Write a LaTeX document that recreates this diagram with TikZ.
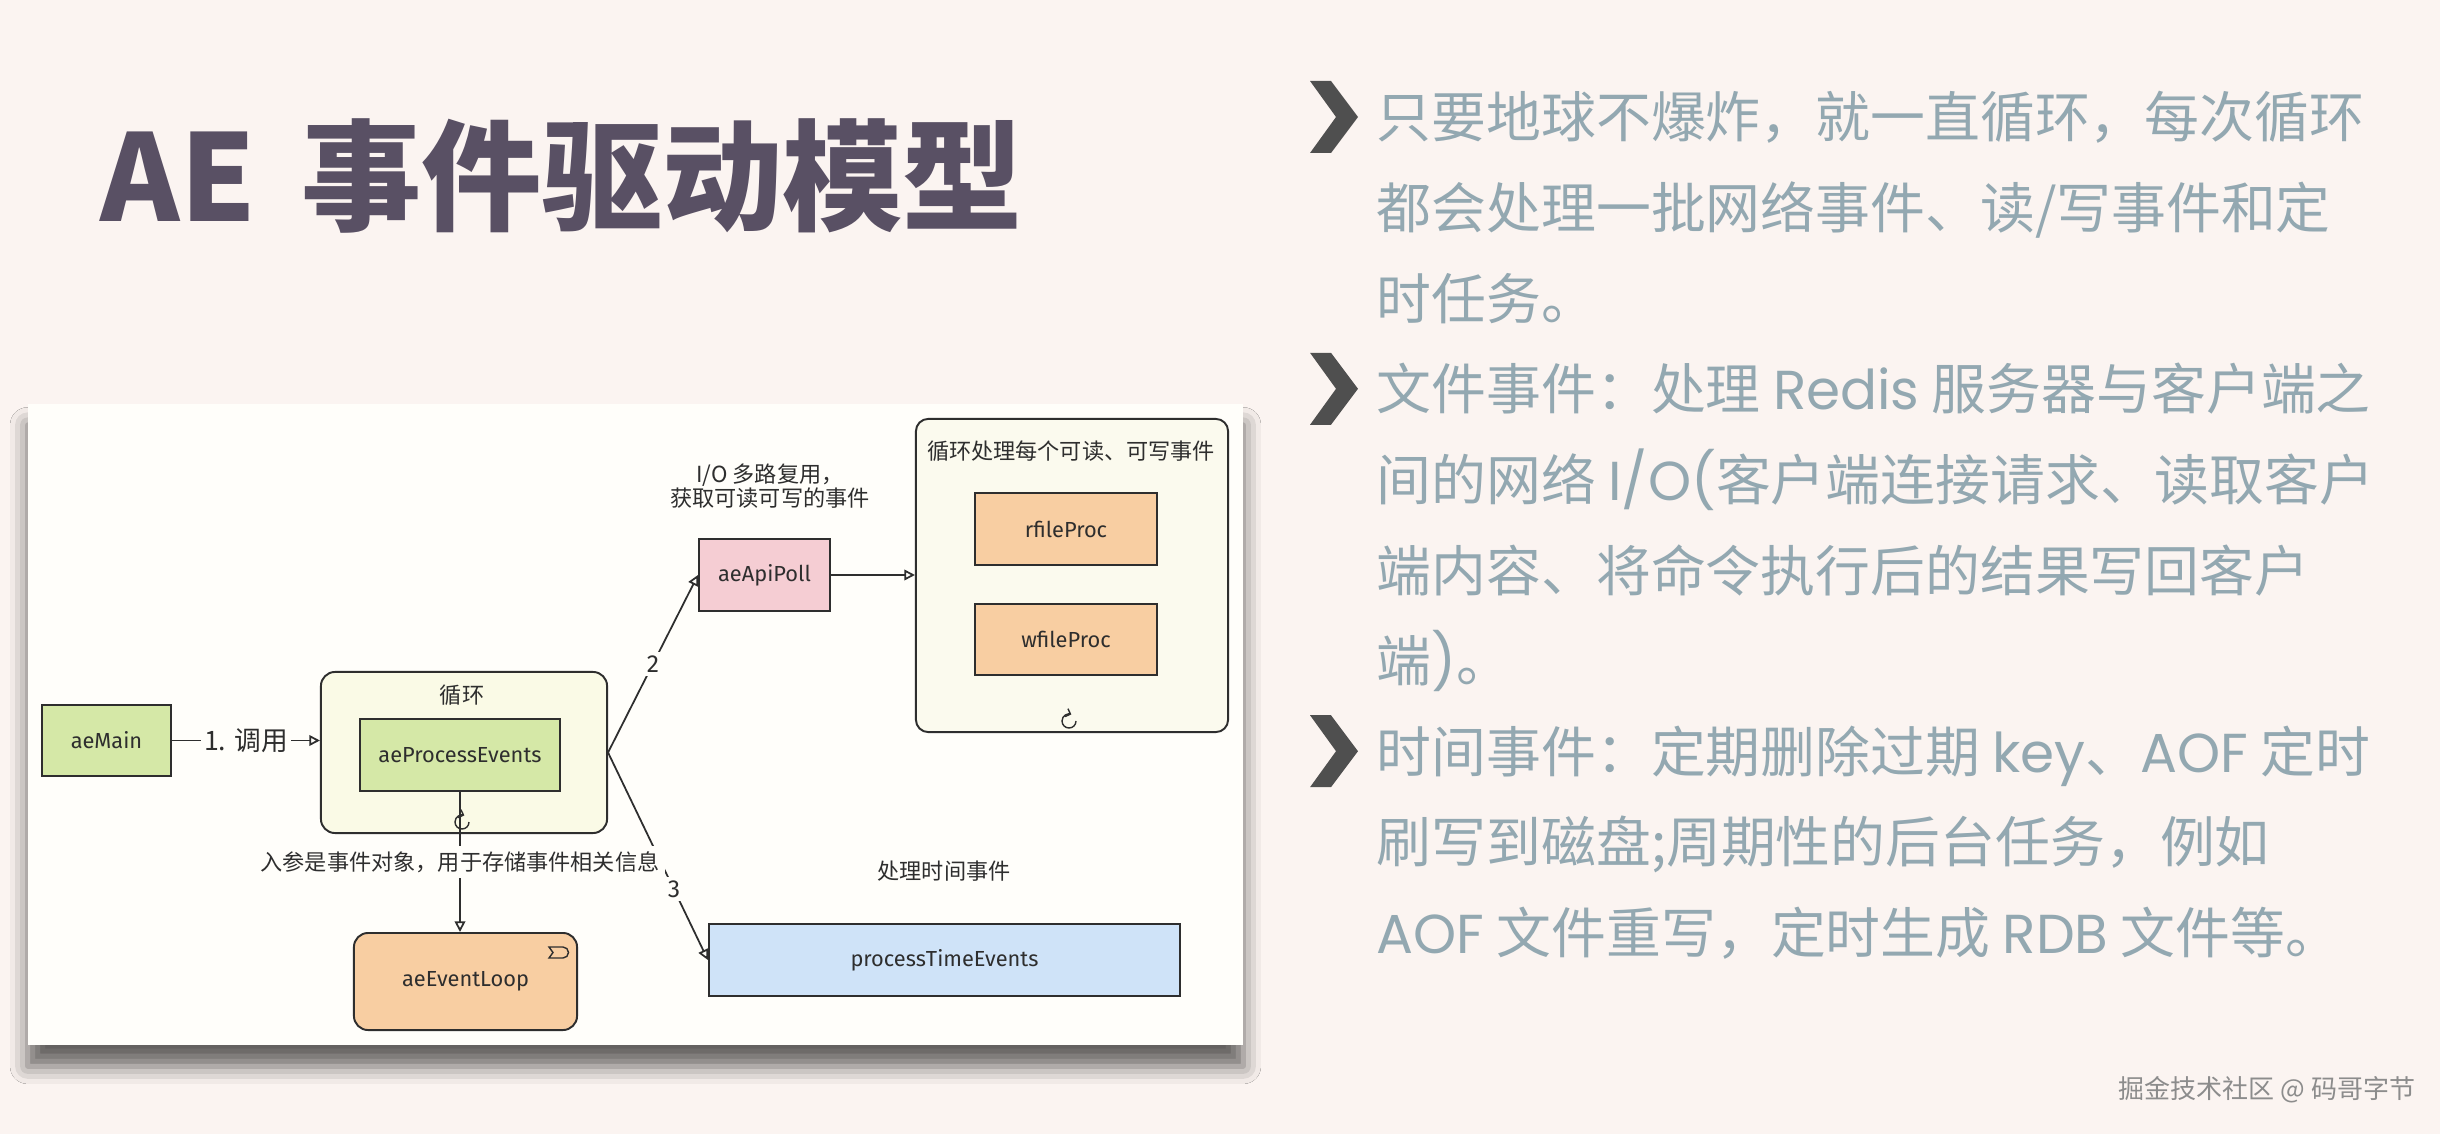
\documentclass[tikz,border=0pt]{standalone}
\usepackage{fontspec}
\setmainfont{Noto Sans CJK SC}
\newfontfamily\geofont{Poppins}
\newfontfamily\handfont{Fira Sans}
\usetikzlibrary{arrows.meta, positioning, shadows.blur}

\definecolor{pagebg}{HTML}{FBF4F1}
\definecolor{panelwhite}{HTML}{FFFEFA}
\definecolor{titlecol}{HTML}{595064}
\definecolor{bulletcol}{HTML}{93A8B1}
\definecolor{chevcol}{HTML}{4F4F4F}
\definecolor{inkcol}{HTML}{2E2E2E}
\definecolor{greenfill}{HTML}{D5E8A7}
\definecolor{creamfill}{HTML}{FAFAE6}
\definecolor{ivoryfill}{HTML}{FBFAEE}
\definecolor{pinkfill}{HTML}{F5CDD3}
\definecolor{orangefill}{HTML}{F8CEA2}
\definecolor{bluefill}{HTML}{CFE3F8}
\definecolor{creditcol}{HTML}{8C8C8C}

\tikzset{
    loopmark/.pic={
        \draw[inkcol, line width=0.4pt, -{Straight Barb[length=1.2pt]}]
            (7,0) arc[start angle=0, end angle=290, radius=7];
    }
}

\begin{document}
\begin{tikzpicture}[
    x=0.01cm, y=-0.01cm,
    every node/.style={inner sep=0pt, text=inkcol},
    panel/.style={
        fill=panelwhite,
        minimum width=12.15cm,
        minimum height=6.41cm,
        blur shadow={shadow xshift=0pt, shadow yshift=-6pt,
            shadow blur radius=5pt, shadow opacity=60}
    },
    box/.style={
        draw=inkcol,
        line width=0.55pt,
        minimum height=0.72cm,
        font=\handfont\fontsize{6.2}{7}\selectfont
    },
    greenbox/.style={box, fill=greenfill},
    pinkbox/.style={box, fill=pinkfill},
    orangebox/.style={box, fill=orangefill},
    bluebox/.style={box, fill=bluefill},
    stage/.style={
        draw=inkcol,
        line width=0.55pt,
        rounded corners=4pt
    },
    cjklabel/.style={font=\fontsize{6.3}{6.8}\selectfont, align=center},
    steplabel/.style={fill=panelwhite, inner sep=1pt,
        font=\fontsize{7.6}{8}\selectfont},
    numlabel/.style={fill=panelwhite, inner sep=1pt,
        font=\handfont\fontsize{7}{8}\selectfont},
    bullettext/.style={anchor=base west, text=bulletcol,
        font=\fontsize{15.6}{18}\selectfont},
    arrow/.style={-{Triangle[open, length=3pt, width=3pt]},
        draw=inkcol, line width=0.5pt}
]

% page and panel
\fill[pagebg] (0,0) rectangle (2440,1134);
\useasboundingbox (0,0) rectangle (2440,1134);
\node[panel] (panel) at (635.5,724.5) {};

% title
\node[anchor=base west, text=titlecol,
      font=\bfseries\fontsize{34.2}{40}\selectfont] (title) at (100,222)
      {AE\hspace{0.38em}事件驱动模型};

% bullets
\foreach \k in {0,3,7}
    \fill[chevcol, shift={(1310,{117+90.6*\k})}]
        (0,-36) -- (21,-36) -- (48,0) -- (21,36) -- (0,36) -- (26,0) -- cycle;
\foreach \txt [count=\k from 0] in {
    {只要地球不爆炸，就一直循环，每次循环},
    {都会处理一批网络事件、读/写事件和定},
    {时任务。},
    {文件事件：处理 {\geofont Redis} 服务器与客户端之},
    {间的网络 {\geofont I/O(}客户端连接请求、读取客户},
    {端内容、将命令执行后的结果写回客户},
    {端{\geofont )}。},
    {时间事件：定期删除过期 {\geofont key}、{\geofont AOF} 定时},
    {刷写到磁盘;周期性的后台任务，例如},
    {{\geofont AOF} 文件重写，定时生成 {\geofont RDB} 文件等。}}
    \node[bullettext] (line\k) at (1376,{138+90.6*\k}) {\txt};

% containers
\node[stage, fill=creamfill, minimum width=2.86cm, minimum height=1.61cm]
    (loopbox) at (464,752.5) {};
\node[cjklabel] (looptitle) at (462,695) {循环};
\node[stage, fill=ivoryfill, rounded corners=3.5pt,
      minimum width=3.12cm, minimum height=3.13cm] (readybox) at (1072,575.5) {};
\node[cjklabel] (readytitle) at (1071,451) {循环处理每个可读、可写事件};

% boxes
\node[greenbox, minimum width=1.29cm, minimum height=0.71cm] (aemain) at (106.5,740.5) {aeMain};
\node[greenbox, minimum width=2.00cm] (aeprocess) at (460,755) {aeProcessEvents};
\node[pinkbox, minimum width=1.31cm] (aeapipoll) at (764.5,575) {aeApiPoll};
\node[orangebox, minimum width=1.82cm] (rfileproc) at (1066,529) {rfileProc};
\node[orangebox, minimum width=1.82cm, minimum height=0.71cm,
      below=0.37cm of rfileproc] (wfileproc) {wfileProc};
\node[orangebox, rounded corners=4pt, minimum width=2.23cm, minimum height=0.97cm]
    (aeeventloop) at (465.5,981.5) {aeEventLoop};
\node[bluebox, minimum width=4.71cm] (processtime) at (944.5,960) {processTimeEvents};

% free labels
\node[cjklabel] (iolabel) at (770,486) {I/O 多路复用，\\获取可读可写的事件};
\node[cjklabel] (timelabel) at (944,871) {处理时间事件};

% connectors
\draw[arrow] (aemain.east) -- node[steplabel] {1. 调用} (aemain.east -| loopbox.west);
\draw[arrow] (loopbox.east) -- node[numlabel] {2} (aeapipoll.west);
\draw[arrow] (loopbox.east) -- node[numlabel, pos=0.66] {3} (processtime.west);
\draw[arrow] (aeapipoll.east) -- (aeapipoll.east -| readybox.west);
\draw[arrow] (aeprocess.south) -- node[cjklabel, fill=panelwhite, inner sep=1.5pt]
    {入参是事件对象，用于存储事件相关信息} (aeprocess.south |- aeeventloop.north);

% markers
\pic at (462,822) {loopmark};
\pic at (1069,721) {loopmark};
\draw[inkcol, line width=0.4pt] (549,947) -- (563,947)
    arc[start angle=-90, end angle=90, radius=5.5] -- (549,958) -- (553,952.5) -- cycle;

% credit
\node[text=creditcol, font=\fontsize{7.4}{9}\selectfont] (credit) at (2267,1090)
    {掘金技术社区 @ 码哥字节};

\end{tikzpicture}
\end{document}
